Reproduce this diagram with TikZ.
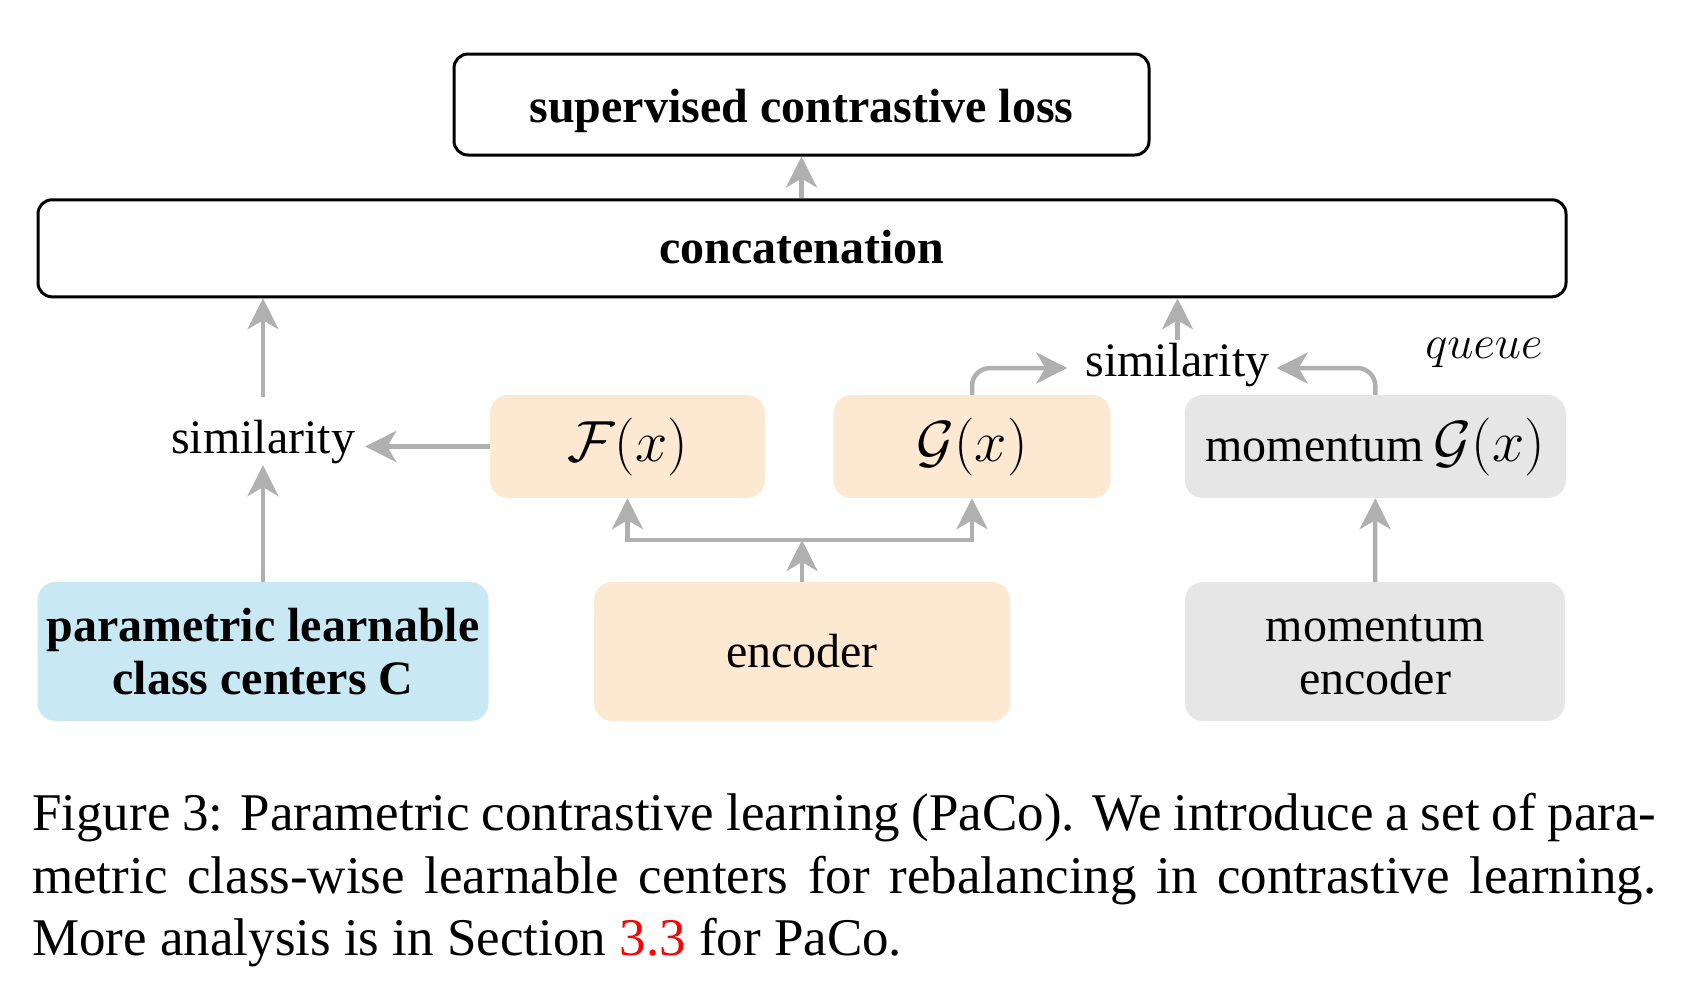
\RequirePackage{fix-cm}
\documentclass[tikz,border=0pt]{standalone}
\usepackage[no-math]{fontspec}
\setmainfont{Liberation Serif}
\usetikzlibrary{arrows.meta}
\definecolor{peach}{RGB}{253,233,209}
\definecolor{skyb}{RGB}{200,233,244}
\definecolor{lgray}{RGB}{230,230,230}
\definecolor{agray}{RGB}{176,176,176}
\definecolor{capred}{RGB}{255,0,0}
\tikzset{
  blackbox/.style={draw=black, line width=3pt, rounded corners=14pt, inner sep=0pt},
  fillbox/.style={rounded corners=18pt, inner sep=0pt},
  arr/.style={draw=agray, line width=4.5pt, -{Stealth[length=31pt,width=31pt,inset=9pt]}},
  txt/.style={font=\fontsize{48}{53}\selectfont},
  btxt/.style={font=\fontsize{48}{53}\selectfont\bfseries},
  mth/.style={font=\fontsize{58}{62}\selectfont},
  capt/.style={font=\fontsize{53}{63}\selectfont, inner sep=0pt},
}
\begin{document}
\begin{tikzpicture}[x=1pt,y=-1pt]
\useasboundingbox (0,0) rectangle (1684,997);

% top boxes
\node[blackbox, btxt, minimum width=695pt, minimum height=101pt, text height=35pt, text depth=0pt]
  (supbox) at (801.5,104.5) {supervised contrastive loss};
\node[blackbox, btxt, minimum width=1528pt, minimum height=97pt, text height=30pt, text depth=0.5pt]
  (concat) at (802,248.3) {concatenation};

% middle row
\node[fillbox, fill=peach, mth, minimum width=275pt, minimum height=103pt] (Fb) at (627.5,446.5) {$\mathcal{F}(x)$};
\node[fillbox, fill=peach, mth, minimum width=277pt, minimum height=103pt] (Gb) at (972,446.5) {$\mathcal{G}(x)$};
\node[fillbox, fill=lgray, txt, minimum width=381pt, minimum height=103pt] (momG) at (1375.3,446.5)
  {momentum\kern10pt{\fontsize{58}{62}\selectfont$\mathcal{G}(x)$}};

% similarity labels
\node[txt, anchor=base, inner ysep=0pt, inner xsep=10pt, text height=56pt, text depth=12pt] (simL) at (263,453) {similarity};
\node[txt, anchor=base, inner ysep=0pt, inner xsep=7pt, text height=36pt, text depth=20pt] (simR) at (1177.5,376) {similarity};
\node[anchor=base, inner sep=0pt, font=\fontsize{47}{50}\selectfont] (queue) at (1484,358) {$queue$};

% bottom row
\node[fillbox, fill=skyb, btxt, align=center, minimum width=451pt, minimum height=139pt] (pc) at (263,651.5)
  {parametric learnable\\class centers C};
\node[fillbox, fill=peach, txt, minimum width=416pt, minimum height=139pt] (enc) at (802,651.5) {encoder};
\node[fillbox, fill=lgray, txt, align=center, minimum width=380pt, minimum height=139pt] (momenc) at (1375,651.5)
  {\rule{0pt}{33pt}momentum\\encoder};

% connectors
\draw[arr] (supbox.south |- concat.north) -- (supbox.south);
\draw[arr] (simL.north) -- (simL.north |- concat.south);
\draw[arr] (pc.north) -- (simL.south);
\draw[arr] (Fb.west) -- (Fb.west -| simL.east);
\coordinate (br) at (802,540);
\draw[arr] (enc.north) -- (br);
\draw[arr] (br) -| (Fb.south);
\draw[arr] (br) -| (Gb.south);
\draw[arr] (momenc.north) -- (momG.south);
\draw[arr] (simR.north) -- (simR.north |- concat.south);
\draw[arr, rounded corners=18pt, shorten >=11pt] (Gb.north) |- (simR.west);
\draw[arr, rounded corners=18pt] (momG.north) |- (simR.east);

% caption
\node[capt, anchor=base west] (cap1) at (32,830)
  {\makebox[1624pt][s]{Figure 3: Parametric contrastive learning (PaCo). We introduce a set of para-}};
\node[capt, anchor=base west] (cap2) at (32,893)
  {\makebox[1624pt][s]{metric class-wise learnable centers for rebalancing in contrastive learning.}};
\node[capt, anchor=base west] (cap3) at (32,955)
  {More analysis is in Section \textcolor{capred}{3.3} for PaCo.};
\end{tikzpicture}
\end{document}
